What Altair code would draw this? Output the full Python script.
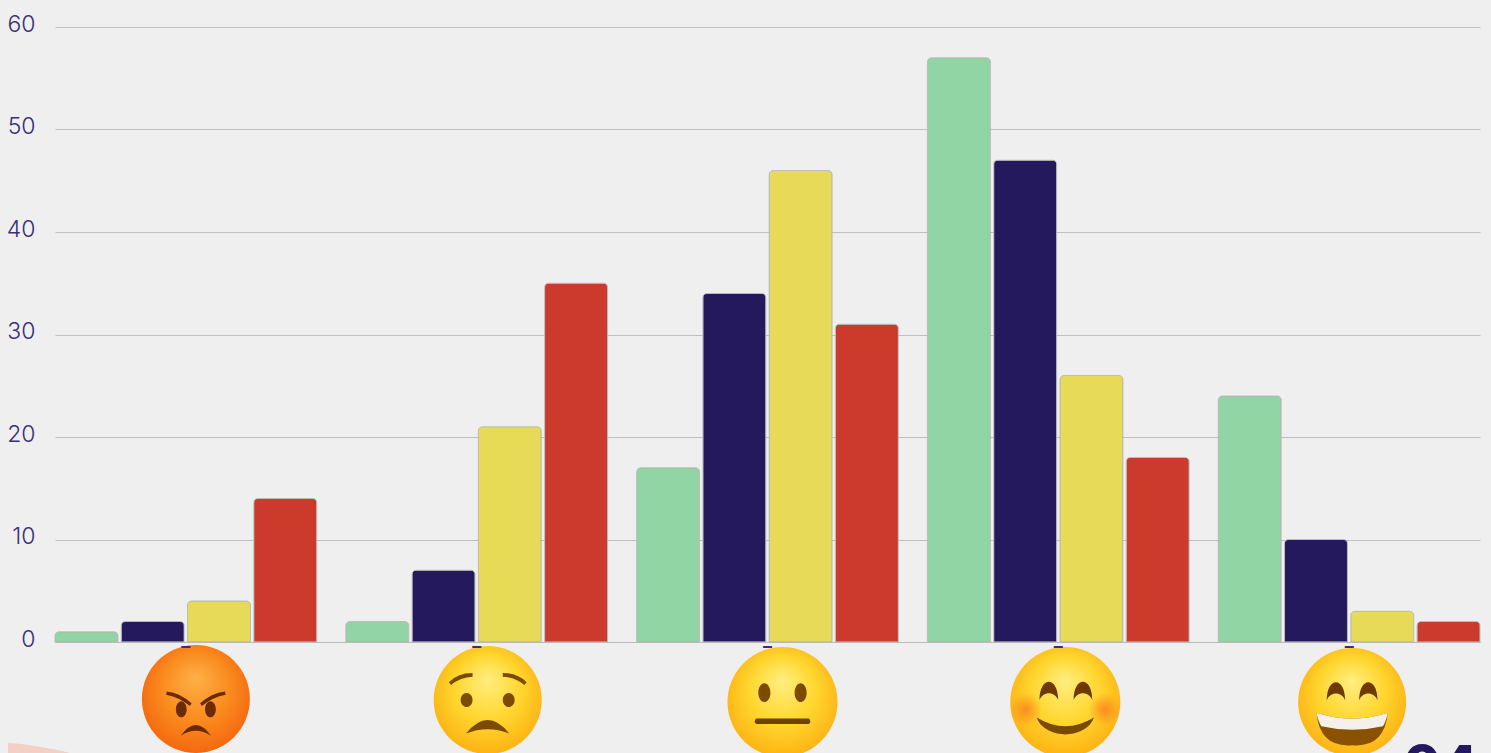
import altair as alt
import pandas as pd

groups = ["Very unhappy", "Unhappy", "Neutral", "Happy", "Very happy"]
series = ["A", "B", "C", "D"]
colors = ["#90D5A3", "#24195C", "#E6DA56", "#CC3A2B"]
series_a = [1, 2, 17, 57, 24]
series_b = [2, 7, 34, 47, 10]
series_c = [4, 21, 46, 26, 3]
series_d = [14, 35, 31, 18, 2]
y_ticks = [0, 10, 20, 30, 40, 50, 60]
corner_label = "04"

PLOT_W, PLOT_H = 1425, 615
BG = "#EFEFEF"

rows = []
for name, vals in zip(series, [series_a, series_b, series_c, series_d]):
    for g, v in zip(groups, vals):
        rows.append({"group": g, "series": name, "value": v})
df = pd.DataFrame(rows)

x_scale = alt.Scale(domain=groups, paddingInner=0.1, paddingOuter=0)

bars = alt.Chart(df).mark_bar(
    cornerRadiusTopLeft=4, cornerRadiusTopRight=4,
    stroke="#B4B4B4", strokeWidth=0.8,
).encode(
    x=alt.X("group:N", scale=x_scale, sort=groups, title=None,
            axis=alt.Axis(labelExpr="'–'", labelAngle=0, labelFontSize=18, labelColor="#3A3078",
                          labelFontWeight="bold", labelPadding=-5, ticks=False, domainColor="#B9B9BC",
                          domainWidth=1, zindex=1, labelFont="Inter", grid=False)),
    xOffset=alt.XOffset("series:N", scale=alt.Scale(domain=series, paddingInner=0.05, paddingOuter=0)),
    y=alt.Y("value:Q", scale=alt.Scale(domain=[0, 60], nice=False), title=None,
            axis=alt.Axis(values=y_ticks, domain=False, ticks=False, grid=True, gridColor="#BFBFC3",
                          gridWidth=1, labelFont="Inter", labelFontSize=23, labelFontWeight=300,
                          labelColor="#3A3078", labelPadding=20, labelOffset=-3)),
    color=alt.Color("series:N", scale=alt.Scale(domain=series, range=colors), legend=None),
)


def ell(cx, cy, rx, ry):
    return (f"M{cx-rx} {cy}C{cx-rx} {cy-ry*.55} {cx-rx*.55} {cy-ry} {cx} {cy-ry}"
            f"C{cx+rx*.55} {cy-ry} {cx+rx} {cy-ry*.55} {cx+rx} {cy}"
            f"C{cx+rx} {cy+ry*.55} {cx+rx*.55} {cy+ry} {cx} {cy+ry}"
            f"C{cx-rx*.55} {cy+ry} {cx-rx} {cy+ry*.55} {cx-rx} {cy}Z")


def radial(stops, cy=0.38, r=0.62):
    return alt.RadialGradient(
        gradient="radial", x1=0.5, y1=cy, r1=0, x2=0.5, y2=0.5, r2=r,
        stops=[alt.GradientStop(color=c, offset=o) for c, o in stops])


YELLOW = radial([("#FFEE80", 0), ("#FFD62E", 0.45), ("#FCB314", 0.8), ("#EE8A08", 1)], cy=0.3, r=0.68)
ANGRY = radial([("#FDB045", 0), ("#FA8A1E", 0.45), ("#F4640E", 0.8), ("#E84A06", 1)], cy=0.3, r=0.72)
BLUSH = radial([("rgba(250,120,30,0.75)", 0), ("rgba(250,120,30,0)", 1)], cy=0.5, r=0.5)
EYE = "#6E3A00"
CIRCLE = ell(0, 0, 1, 1)

arch = lambda cx: (f"M{cx-.17} -.03C{cx-.17} -.48 {cx+.17} -.48 {cx+.17} -.03"
                   f"C{cx+.11} -.2 {cx-.11} -.2 {cx-.17} -.03Z")

emoji = [
    (groups[0], 10, 672, 108, ANGRY, [
        ("#6B2A00", ell(-.27, .19, .1, .15) + ell(.27, .19, .1, .15)),
        ("#6B2A00", "M-.54 -.14Q-.3 -.12 -.08 .08L-.11 .13Q-.32 -.04 -.55 -.08Z"
                    "M.54 -.14Q.3 -.12 .08 .08L.11 .13Q.32 -.04 .55 -.08Z"),
        ("#6B2A00", "M-.28 .68Q0 .28 .28 .68Q0 .5 -.28 .68Z"),
    ]),
    (groups[1], 11, 673, 108, YELLOW, [
        ("#7C4A00", ell(-.39, 0, .11, .13) + ell(.39, 0, .11, .13)),
        ("#7C4A00", "M-.72 -.33Q-.55 -.5 -.28 -.5L-.28 -.43Q-.5 -.42 -.68 -.28Z"
                    "M.72 -.33Q.55 -.5 .28 -.5L.28 -.43Q.5 -.42 .68 -.28Z"),
        ("#7C4A00", "M-.4 .62Q0 .12 .4 .62Q0 .46 -.4 .62Z"),
    ]),
    (groups[2], 15, 675, 110, YELLOW, [
        ("#7C4A00", ell(-.33, -.17, .11, .17) + ell(.33, -.17, .11, .17)),
        ("#6E4200", "M-.48 .3L.48 .3Q.53 .35 .48 .4L-.48 .4Q-.53 .35 -.48 .3Z"),
    ]),
    (groups[3], 7, 675, 110, YELLOW, [
        (BLUSH, ell(-.72, .14, .3, .3)),
        (BLUSH, ell(.72, .14, .3, .3)),
        (EYE, arch(-.3) + arch(.32)),
        ("#7A4A00", "M-.52 .28Q0 .6 .52 .28Q.48 .42 .3 .52Q0 .66 -.3 .52Q-.48 .42 -.52 .28Z"),
    ]),
    (groups[4], 3, 675, 108, YELLOW, [
        (EYE, arch(-.3) + arch(.3)),
        ("#8A5200", "M-.66 .2Q0 .42 .66 .2Q.6 .85 0 .8Q-.6 .85 -.66 .2Z"),
        ("#F4F1EA", "M-.66 .2Q0 .42 .66 .2Q.63 .36 .57 .45Q0 .58 -.57 .45Q-.63 .36 -.66 .2Z"),
    ]),
]

layers = [bars]
for group, dx, cy, diam, face, features in emoji:
    gdf = pd.DataFrame({"group": [group]})
    for fill, path in [(face, CIRCLE)] + features:
        layers.append(
            alt.Chart(gdf).mark_point(
                shape=path, size=diam * diam, filled=True, fill=fill,
                opacity=1, strokeWidth=0, xOffset=dx,
            ).encode(x=alt.X("group:N", scale=x_scale, sort=groups), y=alt.value(cy))
        )

paper_scrap = alt.Chart(pd.DataFrame({"item": ["scrap"]})).mark_point(
    shape=ell(0, 0, 1, .12), size=110 * 110, filled=True, fill="#F3CFC6",
    opacity=1, strokeWidth=0, angle=8,
).encode(x=alt.value(-25), y=alt.value(PLOT_H + 110))
layers.append(paper_scrap)

corner = alt.Chart(pd.DataFrame({"label": [corner_label]})).mark_text(
    font="Inter", fontSize=54, fontWeight=800, color="#24195C", align="right", baseline="alphabetic",
).encode(x=alt.value(PLOT_W - 2), y=alt.value(PLOT_H + 142), text="label:N")
layers.append(corner)

chart = alt.layer(*layers).properties(
    width=PLOT_W,
    height=PLOT_H,
    background=BG,
    padding={"left": 47, "top": 19, "right": 3, "bottom": 111},
    autosize=alt.AutoSizeParams(type="none"),
).configure_view(stroke=None)

chart.save("out.html", embed_options={
    "renderer": "svg", "actions": False,
    "defaultStyle": "html,body{background:%s;overflow:hidden}" % BG,
})
